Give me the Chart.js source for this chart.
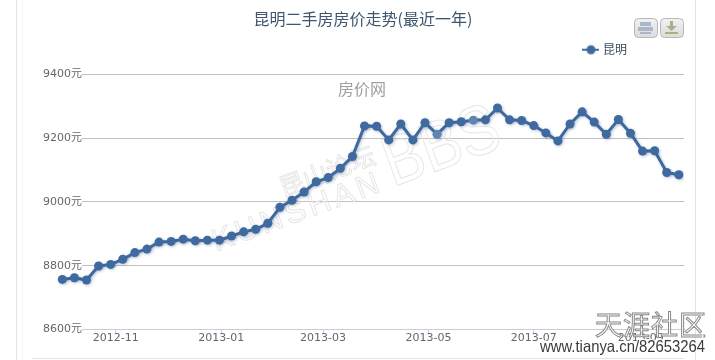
<!DOCTYPE html>
<html>
<head>
<meta charset="utf-8">
<title>昆明二手房房价走势</title>
<script src="https://cdn.jsdelivr.net/npm/chart.js@4/dist/chart.umd.min.js"></script>
<style>
    html, body { margin: 0; padding: 0; background: #fff; }
    canvas { display: block; }
</style>
</head>
<body>
<canvas id="chart" width="715" height="360"></canvas>
<script>
    const CJK = '"DejaVu Sans", "Noto Sans CJK SC", sans-serif';

    // Weekly readings
    const weeks = [
        '2012-10-01', '2012-10-08', '2012-10-15', '2012-10-22', '2012-10-29', '2012-11-05', '2012-11-12',
        '2012-11-19', '2012-11-26', '2012-12-03', '2012-12-10', '2012-12-17', '2012-12-24', '2012-12-31',
        '2013-01-07', '2013-01-14', '2013-01-21', '2013-01-28', '2013-02-04', '2013-02-11', '2013-02-18',
        '2013-02-25', '2013-03-04', '2013-03-11', '2013-03-18', '2013-03-25', '2013-04-01', '2013-04-08',
        '2013-04-15', '2013-04-22', '2013-04-29', '2013-05-06', '2013-05-13', '2013-05-20', '2013-05-27',
        '2013-06-03', '2013-06-10', '2013-06-17', '2013-06-24', '2013-07-01', '2013-07-08', '2013-07-15',
        '2013-07-22', '2013-07-29', '2013-08-05', '2013-08-12', '2013-08-19', '2013-08-26', '2013-09-02',
        '2013-09-09', '2013-09-16', '2013-09-23'
    ];
    const kunming = [
        8757, 8762, 8755, 8799, 8804, 8820, 8841, 8852, 8874, 8876, 8883, 8878, 8880,
        8880, 8893, 8906, 8914, 8933, 8983, 9005, 9031, 9063, 9076, 9105, 9142,
        9238, 9237, 9194, 9244, 9194, 9248, 9212, 9248, 9251, 9256, 9257, 9294,
        9257, 9255, 9239, 9216, 9191, 9244, 9282, 9250, 9212, 9258, 9215, 9159,
        9160, 9092, 9085
    ];
    const monthTicks = ['2012-11', '2013-01', '2013-03', '2013-05', '2013-07', '2013-09'];
    const priceTicks = [8600, 8800, 9000, 9200, 9400];
    const fadedPoints = [31, 34];

    const LINE_COLOR = '#3f6a9f';
    const FADED_COLOR = '#5f86b2';

    function legendIcon() {
        const c = document.createElement('canvas');
        c.width = 17;
        c.height = 11;
        const g = c.getContext('2d');
        g.strokeStyle = LINE_COLOR;
        g.lineWidth = 2;
        g.beginPath();
        g.moveTo(0, 6);
        g.lineTo(17, 6);
        g.stroke();
        g.fillStyle = LINE_COLOR;
        g.beginPath();
        g.arc(8.5, 6, 4.5, 0, Math.PI * 2);
        g.fill();
        return c;
    }

    function roundButton(ctx, x, y, w, h) {
        const fill = ctx.createLinearGradient(0, y, 0, y + h);
        fill.addColorStop(0, '#f2f2f2');
        fill.addColorStop(1, '#dcdcdc');
        ctx.fillStyle = fill;
        ctx.strokeStyle = '#b8b8b8';
        ctx.lineWidth = 1;
        ctx.beginPath();
        ctx.roundRect(x + 0.5, y + 0.5, w, h, 4);
        ctx.fill();
        ctx.stroke();
    }

    // Page frame behind the chart
    const framePlugin = {
        id: 'frame',
        beforeDraw(chart) {
            const ctx = chart.ctx;
            ctx.save();
            ctx.fillStyle = '#e3e3e3';
            ctx.fillRect(16, 0, 1, 360);
            ctx.fillRect(695, 0, 1, 360);
            ctx.fillRect(32, 358, 652, 1);
            ctx.fillStyle = '#f5f5f5';
            ctx.fillRect(22, 0, 1, 360);
            ctx.restore();
        },
        afterLayout(chart) {
            // title centres over the gridlines, legend sits left of their right edge
            chart.titleBlock.left = 42;
            chart.titleBlock.top -= 8;
            chart.titleBlock.bottom -= 8;
            chart.legend.right -= 45;
            chart.legend.top -= 9;
            chart.legend.bottom -= 9;
        }
    };

    // Watermarks under the line
    const underPlugin = {
        id: 'under',
        beforeDatasetsDraw(chart) {
            const ctx = chart.ctx;
            const area = chart.chartArea;
            ctx.save();
            // gridlines only start right of the price labels
            ctx.fillStyle = '#fff';
            ctx.fillRect(area.left - 1, area.top - 2, 33, area.bottom - area.top + 4);

            ctx.fillStyle = '#a0a0a0';
            ctx.font = '16px "Noto Sans CJK SC"';
            ctx.textAlign = 'center';
            ctx.textBaseline = 'middle';
            ctx.fillText('房价网', 362, 89);

            ctx.translate(385, 190);
            ctx.rotate(-20 * Math.PI / 180);
            ctx.strokeStyle = '#e6e6e6';
            ctx.lineWidth = 1;
            ctx.textAlign = 'right';
            ctx.textBaseline = 'alphabetic';
            ctx.font = '31px "Liberation Sans"';
            ctx.letterSpacing = '4px';
            ctx.strokeText('KUNSHAN', 0, 0);
            ctx.letterSpacing = '0px';
            ctx.font = '25px "Noto Sans CJK SC"';
            ctx.strokeText('昆山论坛', 2, -28);
            ctx.textAlign = 'left';
            ctx.font = '70px "Liberation Sans"';
            ctx.scale(0.85, 1);
            ctx.strokeText('BBS', 10, 0);
            ctx.restore();

            // soft shadow under the series
            ctx.save();
            ctx.shadowColor = 'rgba(60, 90, 140, 0.35)';
            ctx.shadowBlur = 3;
            ctx.shadowOffsetX = 1;
            ctx.shadowOffsetY = 1;
        },
        afterDatasetsDraw(chart) {
            chart.ctx.restore();
        }
    };

    // Export buttons and the forum stamp on top
    const overPlugin = {
        id: 'over',
        afterDraw(chart) {
            const ctx = chart.ctx;
            ctx.save();
            roundButton(ctx, 634, 18, 23, 19);
            roundButton(ctx, 660, 18, 23, 19);

            ctx.fillStyle = '#a9b7c9';
            ctx.fillRect(640, 22, 11, 4);
            ctx.fillRect(638, 27, 15, 4);
            ctx.fillRect(640, 32, 11, 2);
            ctx.fillStyle = '#a8b08a';
            ctx.fillRect(670, 21, 3, 5);
            ctx.beginPath();
            ctx.moveTo(666, 26);
            ctx.lineTo(677, 26);
            ctx.lineTo(671.5, 31);
            ctx.closePath();
            ctx.fill();
            ctx.fillRect(665, 32, 13, 2);

            ctx.textAlign = 'left';
            ctx.textBaseline = 'alphabetic';
            ctx.font = '27px "Noto Sans CJK SC"';
            ctx.letterSpacing = '1px';
            ctx.strokeStyle = '#8a8a8a';
            ctx.lineWidth = 1;
            ctx.fillStyle = '#ffffff';
            ctx.fillText('天涯社区', 595, 335);
            ctx.strokeText('天涯社区', 595, 335);
            ctx.letterSpacing = '0px';

            ctx.translate(540, 352);
            ctx.scale(0.9, 1);
            ctx.font = '16.5px "Liberation Sans"';
            ctx.strokeStyle = 'rgba(255, 255, 255, 0.9)';
            ctx.lineWidth = 2.5;
            ctx.strokeText('www.tianya.cn/82653264', 0, 0);
            ctx.fillStyle = '#3a3a3a';
            ctx.fillText('www.tianya.cn/82653264', 0, 0);
            ctx.restore();
        }
    };

    new Chart(document.getElementById('chart'), {
        type: 'line',
        data: {
            datasets: [{
                label: '昆明',
                data: weeks.map((w, i) => ({ x: Date.parse(w), y: kunming[i] })),
                borderColor: LINE_COLOR,
                borderWidth: 3,
                backgroundColor: LINE_COLOR,
                pointBackgroundColor: ctx => fadedPoints.includes(ctx.dataIndex) ? FADED_COLOR : LINE_COLOR,
                pointBorderWidth: 0,
                pointRadius: 4.5,
                tension: 0
            }]
        },
        plugins: [framePlugin, underPlugin, overPlugin],
        options: {
            responsive: false,
            animation: false,
            layout: { padding: { left: 0, right: 31, top: 17, bottom: 0 } },
            plugins: {
                title: {
                    display: true,
                    text: '昆明二手房房价走势(最近一年)',
                    color: '#3e576f',
                    font: { family: '"Noto Sans CJK SC"', size: 16, weight: 'normal' },
                    padding: { top: 0, bottom: 4 }
                },
                legend: {
                    display: true,
                    align: 'end',
                    labels: {
                        color: '#3e4a5a',
                        font: { family: '"Noto Sans CJK SC"', size: 12 },
                        usePointStyle: true,
                        generateLabels: chart => chart.data.datasets.map((d, i) => ({
                            text: d.label,
                            datasetIndex: i,
                            pointStyle: legendIcon(),
                            fontColor: '#3e4a5a'
                        })),
                        padding: 12
                    }
                },
                tooltip: { enabled: false }
            },
            scales: {
                x: {
                    type: 'linear',
                    min: Date.parse('2012-09-23T21:00:00Z'),
                    max: Date.parse('2013-09-26T00:00:00Z'),
                    afterBuildTicks: scale => {
                        scale.ticks = monthTicks.map(m => ({ value: Date.parse(m + '-01') }));
                    },
                    afterFit: scale => { scale.height = 30.5; },
                    border: { color: '#c0d0e0' },
                    grid: { drawOnChartArea: false, color: '#c0d0e0', tickLength: 4 },
                    ticks: {
                        autoSkip: false,
                        maxRotation: 0,
                        color: '#666',
                        font: { family: CJK, size: 11 },
                        padding: -2,
                        callback: (v, i) => monthTicks[i]
                    }
                },
                y: {
                    min: priceTicks[0],
                    max: priceTicks[priceTicks.length - 1],
                    afterBuildTicks: scale => {
                        scale.ticks = priceTicks.map(v => ({ value: v }));
                    },
                    afterFit: scale => { scale.width = 50; },
                    border: { display: false },
                    grid: { color: '#c0c0c0', drawTicks: false },
                    ticks: {
                        mirror: true,
                        z: 1,
                        color: '#666',
                        font: { family: CJK, size: 11 },
                        padding: -7,
                        labelOffset: 0,
                        callback: v => v + '元'
                    }
                }
            }
        }
    });
</script>
</body>
</html>
